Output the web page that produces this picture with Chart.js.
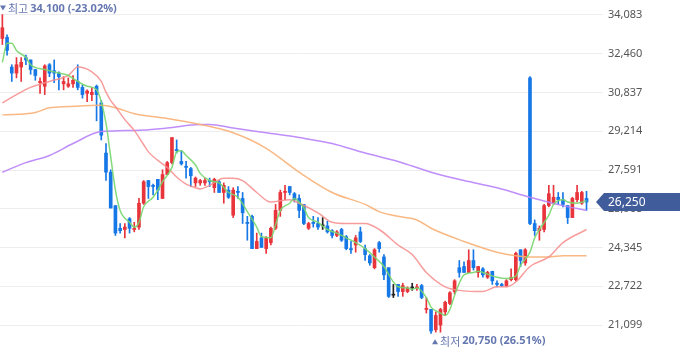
<!DOCTYPE html>
<html>
<head>
<meta charset="utf-8">
<script src="https://cdn.jsdelivr.net/npm/chart.js@4"></script>
<style>
  html, body { margin: 0; padding: 0; background: #fff; }
  #container { width: 680px; height: 358px; }
</style>
</head>
<body>
<div id="container"><canvas id="canvas"></canvas></div>
<script>
// daily candles, oldest first
var opens = [33100,33150,31900,31650,31900,32300,32200,31800,31250,31100,32000,31750,31650,31200,31100,31200,31300,31050,30800,30750,
  31100,30400,28300,27500,26100,25150,25100,25550,25100,25200,26200,27150,26950,27200,26400,27400,27900,28450,27950,27750,
  27650,27050,27050,27050,27150,26850,27100,26650,26750,25700,26700,26400,25400,25650,24300,24750,24300,24550,25150,25900,
  26650,26900,26600,26400,26150,25150,25400,25350,25250,25250,25050,24850,25100,24800,24300,24450,25000,24300,24000,23500,
  24550,23950,23500,22350,22800,22500,22500,22650,22650,22750,21750,21750,20900,21100,21650,22000,22500,23500,23550,23300,
  23800,23300,23450,23100,23350,22850,22800,22750,23000,23000,24250,23700,31450,25350,25050,25100,26100,26200,26450,26350,
  26100,25600,26350,26200,26400];
var highs = [34100,33250,32000,32300,32300,32400,32200,31800,31450,32000,32050,32200,31700,31500,31450,31550,32000,31150,30950,31050,
  31150,30500,28700,27600,26100,25350,25350,25600,25400,26400,27150,27150,27000,27200,27600,27950,28950,28850,28400,27950,
  27700,27300,27200,27250,27250,27250,27150,27050,26900,26850,26900,26650,25650,25700,24950,24950,24800,25200,26150,26750,
  26950,26900,26650,26550,26150,25400,25650,25600,25600,25450,25100,25050,25150,24850,24600,24850,25200,24450,24050,24300,
  24600,24050,23500,22800,22800,22850,22700,22850,22800,22800,22250,21750,21650,21800,22100,22500,23000,23800,23750,24250,
  24250,23550,23500,23350,23350,22950,22850,23000,23450,24150,24250,24300,31500,25500,25250,26150,26950,26950,26650,26650,
  26100,26450,26950,26700,26700];
var lows = [32850,32400,31300,31450,31300,32000,31600,31350,30800,30750,31500,31250,30950,30950,31050,31050,30950,30600,30450,30500,
  29650,28850,27150,26000,24850,24950,24750,24950,25000,25100,26150,26400,26550,26350,26400,27400,27850,28300,27800,27250,
  26900,26900,26950,26950,26900,26650,26650,26200,26400,25600,26400,25350,24650,24300,24300,24350,24100,24450,25100,25650,
  26350,26550,26250,25600,25300,25100,25200,25100,25100,24950,24750,24800,24600,24250,24100,24150,24550,23800,23600,23450,
  24150,23000,22250,22250,22300,22300,22450,22550,22550,22200,21600,20750,20800,20800,21500,21950,22400,23100,23300,23300,
  23400,23100,23100,23050,22800,22700,22700,22700,22950,22950,23550,23600,25300,24850,24650,25000,26050,26150,26150,26050,
  25350,25600,26250,26150,25900];
var closes = [33550,32600,31650,32000,32100,32200,31800,31550,31300,31950,31650,31650,31500,31300,31200,31350,31050,30750,30900,30850,
  30750,29050,27500,26000,24950,25050,25200,25150,25150,26200,27100,26900,26900,26750,27400,27900,28950,28400,27850,27700,
  27350,27250,27150,27150,27100,27200,26650,26950,26450,26750,26650,25800,25350,24300,24600,24350,24750,25150,25900,26650,
  26700,26650,26350,25900,25350,25350,25350,25200,25250,25000,24850,25000,24650,24300,24250,24750,24600,24050,23700,24250,
  24300,23200,22300,22350,22500,22750,22650,22650,22700,22250,21800,20850,21500,21750,22050,22450,22950,23300,23300,23800,
  23500,23550,23200,23300,22950,22800,22750,22950,23100,24100,23800,24250,25350,25050,25150,26100,26600,26450,26350,26150,
  25600,26400,26650,26650,26250];

// moving averages: [candle index, value]
var ma5 = [[0,32100],[1,32900],[2,32900],[3,32600],[5,32300],[6,32000],[9,31800],[11,31700],[12,31650],[14,31550],[16,31300],
  [18,31100],[20,30950],[21,30450],[22,29550],[23,28150],[24,26750],[25,25900],[27,25400],[28,25200],[29,25400],[30,26050],
  [32,26450],[33,26750],[34,27100],[36,27700],[37,28350],[38,28400],[39,28200],[41,27800],[42,27450],[44,27150],[46,27050],
  [48,26650],[50,26450],[52,25850],[54,25200],[55,24800],[57,24750],[58,25300],[59,25900],[61,26200],[62,26400],[63,26250],
  [64,26000],[65,25600],[67,25400],[69,25100],[71,24950],[73,24750],[75,24550],[77,24300],[79,23950],[81,23550],[83,22900],
  [84,22700],[86,22650],[87,22600],[88,22650],[90,22250],[91,21850],[93,21600],[94,21500],[95,21750],[96,22350],[97,22850],
  [98,23200],[100,23300],[101,23350],[102,23300],[105,23100],[107,23050],[109,23150],[110,23600],[112,24150],[113,24750],
  [114,25100],[116,25700],[117,26150],[119,26350],[120,26250],[122,26200],[124,26300]];
var ma20 = [[0,30400],[3,30750],[6,31050],[10,31300],[14,31550],[16,31900],[19,31700],[21,31300],[22,30850],[23,30500],
  [24,30250],[26,29700],[28,29250],[30,28650],[31,28350],[34,27850],[35,27700],[37,27300],[39,27000],[41,26850],[42,26800],
  [44,26950],[47,27250],[49,27250],[51,27150],[54,26650],[57,26250],[61,26350],[63,26200],[67,25800],[70,25400],[73,25350],
  [77,25350],[80,25100],[84,24450],[87,24050],[90,23300],[94,22700],[97,22550],[102,22500],[105,22700],[107,22700],
  [109,22900],[112,23550],[116,23950],[119,24550],[124,25100]];
var ma60 = [[0,29900],[7,30000],[10,30200],[14,30250],[21,30300],[24,30200],[28,29950],[35,29750],[42,29500],[49,29150],
  [56,28500],[63,27500],[70,26650],[77,26150],[80,25850],[84,25650],[88,25500],[91,25150],[98,24600],[105,24150],
  [109,24000],[112,23950],[116,23950],[119,24000],[124,24000]];
var ma120 = [[0,27500],[5,27900],[10,28200],[15,28700],[21,29200],[28,29250],[35,29350],[42,29500],[44,29500],[49,29350],
  [56,29150],[63,28950],[70,28700],[77,28300],[84,27950],[91,27500],[98,27150],[105,26850],[112,26450],[119,26100],[124,25900]];

var tickValues = [34083, 32460, 30837, 29214, 27591, 25968, 24345, 22722, 21099];
var yMin = 19718, yMax = 34711;
var slotCount = 128; // 125 candles + empty room on the right

var UP = '#e8343b', DOWN = '#1677e6', FLAT = '#222222';
var labelColor = '#6577b0';

var slots = [];
for (var i = 0; i < slotCount; i++) slots.push(i);

var candleColors = opens.map(function (o, i) {
  if (closes[i] > o) return UP;
  if (closes[i] < o) return DOWN;
  return FLAT;
});

function toPoints(arr) {
  return arr.map(function (p) { return { x: p[0], y: p[1] }; });
}

function maLine(label, arr, color) {
  return {
    type: 'line', label: label, data: toPoints(arr),
    borderColor: color, borderWidth: 1.5, pointRadius: 0,
    tension: 0.4, cubicInterpolationMode: 'monotone', order: 0
  };
}

// high / low markers and the last price badge
var overlay = {
  id: 'overlay',
  afterDraw: function (chart) {
    var ctx = chart.ctx, x = chart.scales.x, y = chart.scales.y;
    var last = closes[closes.length - 1];
    var hi = Math.max.apply(null, highs), lo = Math.min.apply(null, lows);
    var hiIdx = highs.indexOf(hi), loIdx = lows.indexOf(lo);

    function marker(idx, val, word, pct, down, dy) {
      var sx = Math.max(0, x.getPixelForValue(idx) + (down ? -3 : 1));
      var cy = y.getPixelForValue(val) + dy;
      ctx.save();
      ctx.fillStyle = labelColor;
      ctx.beginPath();
      if (down) { ctx.moveTo(sx, cy - 3); ctx.lineTo(sx + 6, cy - 3); ctx.lineTo(sx + 3, cy + 2); }
      else { ctx.moveTo(sx, cy + 3); ctx.lineTo(sx + 6, cy + 3); ctx.lineTo(sx + 3, cy - 2); }
      ctx.closePath();
      ctx.fill();
      ctx.textBaseline = 'middle';
      ctx.font = '11px "Noto Sans CJK KR"';
      ctx.fillText(word, sx + 8, cy);
      var w = ctx.measureText(word).width;
      ctx.font = 'bold 11px "Noto Sans", "Noto Sans CJK KR"';
      ctx.fillText(val.toLocaleString('en-US') + ' (' + pct + '%)', sx + 10 + w, cy);
      ctx.restore();
    }
    marker(hiIdx, hi, '최고', ((last - hi) / hi * 100).toFixed(2), true, -6);
    marker(loIdx, lo, '최저', ((last - lo) / lo * 100).toFixed(2), false, 8);

    var r = chart.chartArea.right;
    var by = y.getPixelForValue(last);
    ctx.save();
    ctx.fillStyle = '#405c9a';
    ctx.beginPath();
    ctx.moveTo(r - 7, by);
    ctx.lineTo(r + 1, by - 9);
    ctx.lineTo(680, by - 9);
    ctx.lineTo(680, by + 9);
    ctx.lineTo(r + 1, by + 9);
    ctx.closePath();
    ctx.fill();
    ctx.fillStyle = '#ffffff';
    ctx.font = '12px "Noto Sans"';
    ctx.textBaseline = 'middle';
    ctx.fillText(last.toLocaleString('en-US'), r + 5, by + 1);
    ctx.restore();
  }
};

new Chart(document.getElementById('canvas'), {
  type: 'bar',
  data: {
    labels: slots,
    datasets: [
      maLine('5', ma5, 'rgba(120,214,110,0.9)'),
      maLine('20', ma20, 'rgba(246,140,140,0.85)'),
      maLine('60', ma60, 'rgba(248,176,118,0.9)'),
      maLine('120', ma120, 'rgba(184,130,250,0.9)'),
      {
        label: 'body',
        data: opens.map(function (o, i) { return [o, closes[i]]; }),
        backgroundColor: candleColors,
        barThickness: 3, minBarLength: 1, grouped: false, order: 1
      },
      {
        label: 'wick',
        data: lows.map(function (l, i) { return [l, highs[i]]; }),
        backgroundColor: candleColors,
        barThickness: 1, grouped: false, order: 2
      }
    ]
  },
  options: {
    responsive: true,
    maintainAspectRatio: false,
    animation: false,
    devicePixelRatio: 1,
    layout: { padding: 0 },
    plugins: { legend: { display: false }, tooltip: { enabled: false } },
    scales: {
      x: { display: false, offset: true },
      y: {
        position: 'right',
        min: yMin, max: yMax,
        afterBuildTicks: function (scale) {
          scale.ticks = tickValues.map(function (v) { return { value: v }; });
        },
        afterFit: function (scale) {
          scale.width = 77;
          scale.paddingTop = 0;
          scale.paddingBottom = 0;
        },
        grid: { color: '#ededed', drawTicks: false },
        border: { display: false },
        ticks: {
          padding: 5,
          color: '#555555',
          font: { family: '"Noto Sans"', size: 11 },
          callback: function (v) { return v.toLocaleString('en-US'); }
        }
      }
    }
  },
  plugins: [overlay]
});
</script>
</body>
</html>
